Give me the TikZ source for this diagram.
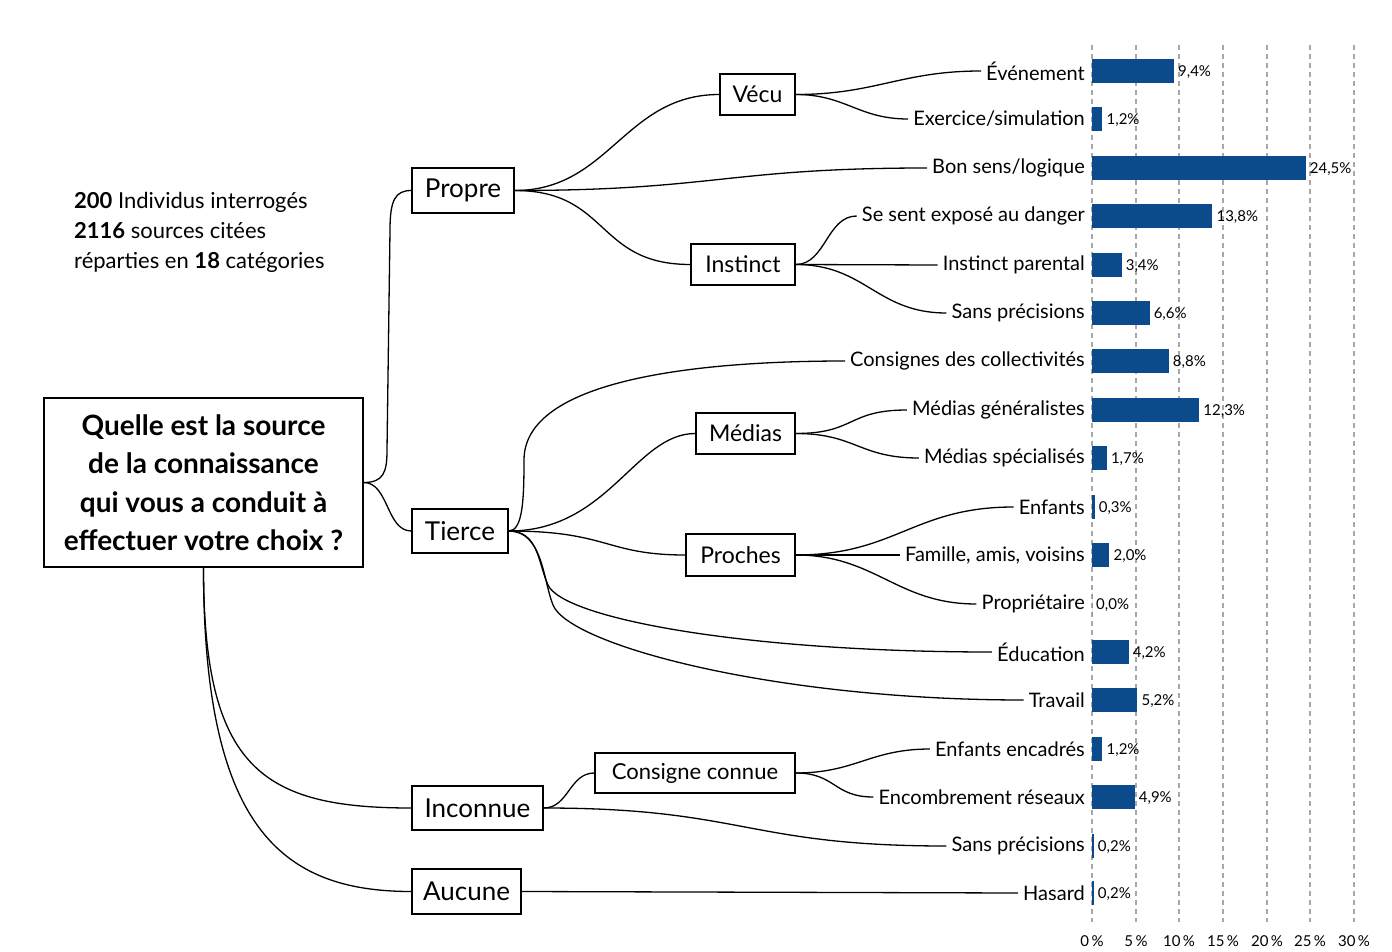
\documentclass[tikz,border=0pt]{standalone}
\usepackage{fontspec}
\setmainfont{Lato}
\definecolor{barblue}{HTML}{0B4A8B}
\definecolor{gridgray}{HTML}{A8A8A8}
\begin{document}
\begin{tikzpicture}[x=1pt,y=-1pt,
  cat/.style={draw,line width=1.4pt,inner sep=0pt,font=\fontsize{23}{27}\selectfont},
  catA/.style={cat,font=\fontsize{26}{30}\selectfont},
  lab/.style={anchor=east,inner xsep=5pt,inner ysep=0pt,font=\fontsize{20}{24}\selectfont},
  pct/.style={anchor=west,inner sep=0pt,font=\fontsize{15}{17}\selectfont},
  intro/.style={anchor=base west,inner sep=0pt,font=\fontsize{22}{26}\selectfont},
  conn/.style={line width=1.3pt},
  grid/.style={gridgray,line width=1.4pt,dash pattern=on 5pt off 4pt}]
\useasboundingbox (0,0) rectangle (1392,952);
\fill[white] (0,0) rectangle (1392,952);

% grid
\foreach \xx/\tt in {1092/0,1136/5,1179/10,1223/15,1267/20,1310/25,1354/30}{
  \draw[grid] (\xx,45) -- (\xx,922);
  \node[font=\fontsize{15}{17}\selectfont,inner sep=0pt] (ax\tt) at (\xx,941) {\tt\,\%};
}

% bars
\foreach \yy/\vv/\ll in {71/9.4/{9,4\%},119/1.2/{1,2\%},168/24.5/{24,5\%},216/13.8/{13,8\%},265/3.4/{3,4\%},313/6.6/{6,6\%},361/8.8/{8,8\%},410/12.3/{12,3\%},458/1.7/{1,7\%},507/0.3/{0,3\%},555/2.0/{2,0\%},604/0.0/{0,0\%},652/4.2/{4,2\%},700/5.2/{5,2\%},749/1.2/{1,2\%},797/4.9/{4,9\%},846/0.2/{0,2\%},893/0.2/{0,2\%}}{
  \pgfmathsetmacro\ww{\vv*8.72}
  \fill[barblue] (1092,\yy-12) rectangle ++(\ww,24);
  \node[pct] at (1092+\ww+4,\yy+1) {\ll};
}

% question and intro
\node[draw,line width=1.4pt,inner sep=0pt,minimum width=319pt,minimum height=169pt,align=center,
  font=\bfseries\fontsize{28}{38.5}\selectfont] (q) at (203.5,482.5)
  {Quelle est la source\\de la connaissance\\qui vous a conduit à\\effectuer votre choix ?};
\node[intro] (introA) at (74,209) {\textbf{200} Individus interrogés};
\node[intro] (introB) at (74,239) {\textbf{2116} sources citées};
\node[intro] (introC) at (74,269) {réparties en \textbf{18} catégories};

% category boxes
\node[catA,minimum width=102pt,minimum height=45pt] (propre) at (463,190.5) {Propre};
\node[catA,minimum width=96pt,minimum height=44pt] (tierce) at (460,531) {Tierce};
\node[catA,minimum width=131pt,minimum height=44pt] (inconnue) at (477.5,808) {Inconnue};
\node[catA,minimum width=109pt,minimum height=45pt] (aucune) at (466.5,891.5) {Aucune};
\node[cat,minimum width=75pt,minimum height=41pt] (vecu) at (757.5,94.5) {Vécu};
\node[cat,minimum width=104pt,minimum height=41pt] (instinct) at (743,264.5) {Instinct};
\node[cat,minimum width=99pt,minimum height=41pt] (medias) at (745.5,433.5) {Médias};
\node[cat,minimum width=109pt,minimum height=42pt] (proches) at (740.5,555) {Proches};
\node[cat,minimum width=200pt,minimum height=40pt,font=\fontsize{22}{26}\selectfont] (consigne) at (695,773) {Consigne connue};

% leaf labels
\node[lab] (evenement) at (1090,71) {Événement};
\node[lab] (exercice) at (1090,119) {Exercice/simulation};
\node[lab] (bonsens) at (1090,168) {Bon sens/logique};
\node[lab] (expose) at (1090,216) {Se sent exposé au danger};
\node[lab] (parental) at (1090,265) {Instinct parental};
\node[lab] (sansprecA) at (1090,313) {Sans précisions};
\node[lab] (collect) at (1090,361) {Consignes des collectivités};
\node[lab] (medgen) at (1090,410) {Médias généralistes};
\node[lab] (medspe) at (1090,458) {Médias spécialisés};
\node[lab] (enfants) at (1090,507) {Enfants};
\node[lab] (famille) at (1090,555) {Famille, amis, voisins};
\node[lab] (proprio) at (1090,604) {Propriétaire};
\node[lab] (education) at (1090,652) {Éducation};
\node[lab] (travail) at (1090,700) {Travail};
\node[lab] (enfenc) at (1090,749) {Enfants encadrés};
\node[lab] (encomb) at (1090,797) {Encombrement réseaux};
\node[lab] (sansprecB) at (1090,846) {Sans précisions};
\node[lab] (hasard) at (1090,893) {Hasard};

% connectors: question
\coordinate (qa) at (387,450);
\coordinate (qb) at (390,230);
\draw[conn] (q.east) .. controls +(20,0) and +(0,22) .. (qa) -- (qb) .. controls +(0,-30) and +(-16,0) .. (propre.west);
\draw[conn] (q.east) .. controls +(25,0) and +(-25,0) .. (tierce.west);
\draw[conn] (q.south) .. controls +(0,200) and +(-150,0) .. (inconnue.west);
\draw[conn] (q.south) .. controls +(0,260) and +(-130,0) .. (aucune.west);

% Propre
\draw[conn] (propre.east) .. controls +(95,0) and +(-95,0) .. (vecu.west);
\draw[conn] (propre.east) .. controls +(200,0) and +(-200,0) .. (bonsens.west);
\draw[conn] (propre.east) .. controls +(95,0) and +(-95,0) .. (instinct.west);
\draw[conn] (vecu.east) .. controls +(80,0) and +(-80,0) .. (evenement.west);
\draw[conn] (vecu.east) .. controls +(50,0) and +(-50,0) .. (exercice.west);
\draw[conn] (instinct.east) .. controls +(30,0) and +(-30,0) .. (expose.west);
\draw[conn] (instinct.east) -- (parental.west);
\draw[conn] (instinct.east) .. controls +(70,0) and +(-70,0) .. (sansprecA.west);

% Tierce
\coordinate (tc1) at (524,460);
\coordinate (tc2) at (548,585);
\coordinate (tc3) at (553,605);
\draw[conn] (tierce.east) .. controls +(14,0) and +(0,40) .. (tc1) .. controls +(0,-80) and +(-150,0) .. (collect.west);
\draw[conn] (tierce.east) .. controls +(100,0) and +(-60,0) .. (medias.west);
\draw[conn] (tierce.east) .. controls +(100,0) and +(-80,0) .. (proches.west);
\draw[conn] (tierce.east) .. controls +(30,0) and +(-10,-22) .. (tc2) .. controls +(15,33) and +(-250,0) .. (education.west);
\draw[conn] (tierce.east) .. controls +(34,0) and +(-10,-25) .. (tc3) .. controls +(16,40) and +(-250,0) .. (travail.west);
\draw[conn] (medias.east) .. controls +(60,0) and +(-60,0) .. (medgen.west);
\draw[conn] (medias.east) .. controls +(60,0) and +(-60,0) .. (medspe.west);
\draw[conn] (proches.east) .. controls +(100,0) and +(-100,0) .. (enfants.west);
\draw[conn] (proches.east) -- (famille.west);
\draw[conn] (proches.east) .. controls +(80,0) and +(-80,0) .. (proprio.west);

% Inconnue / Aucune
\draw[conn] (inconnue.east) .. controls +(25,0) and +(-25,0) .. (consigne.west);
\draw[conn] (inconnue.east) .. controls +(200,0) and +(-200,0) .. (sansprecB.west);
\draw[conn] (consigne.east) .. controls +(60,0) and +(-60,0) .. (enfenc.west);
\draw[conn] (consigne.east) .. controls +(40,0) and +(-40,0) .. (encomb.west);
\draw[conn] (aucune.east) -- (hasard.west);
\end{tikzpicture}
\end{document}
